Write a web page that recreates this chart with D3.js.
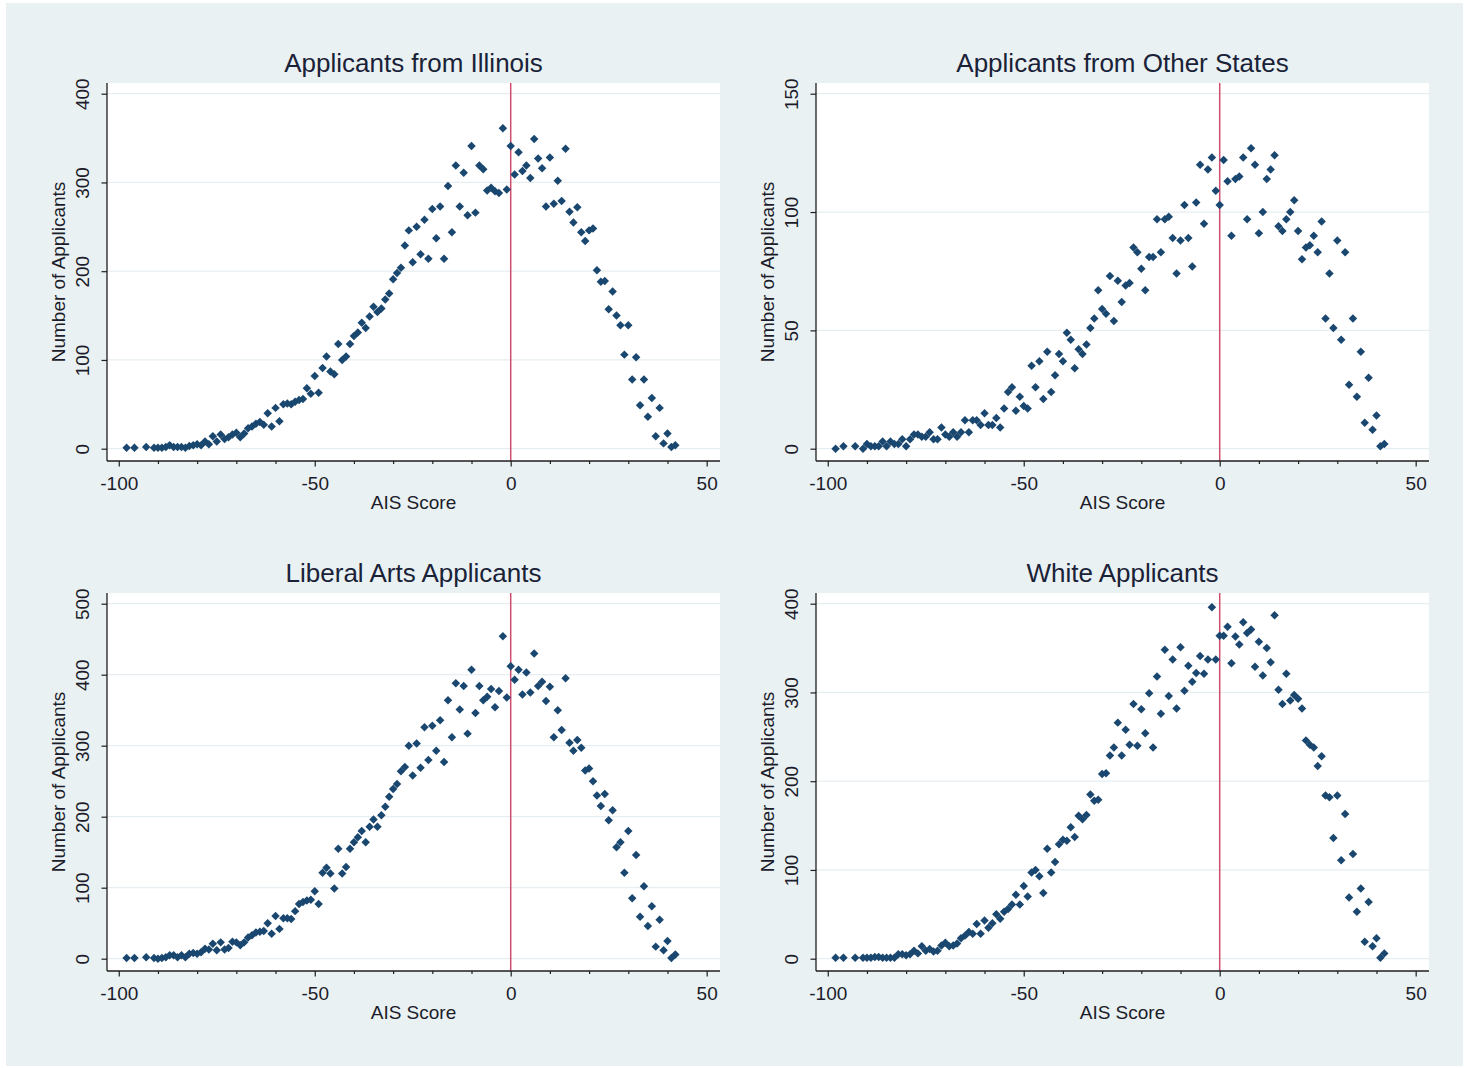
<!DOCTYPE html>
<html lang="en">
  <head>
    <meta charset="UTF-8" />
    <title>AIS score distributions</title>
    <script src="https://d3js.org/d3.v7.min.js"></script>
    <style>
      body {
        margin: 0;
        background: #ffffff;
      }
      text {
        font-family: "Liberation Sans", Arial, sans-serif;
        fill: #1c1c2a;
      }
      .grid {
        stroke: #e6eef1;
        stroke-width: 1.2;
      }
      .axis-line {
        stroke: #1e1e1e;
        stroke-width: 1.3;
      }
      .axis .tick line {
        stroke: #1e1e1e;
        stroke-width: 1.2;
      }
      .cutoff {
        stroke: #cf4d6d;
        stroke-width: 1.5;
      }
      .dot {
        fill: #1a476f;
      }
    </style>
  </head>
  <body>
    <svg width="1465" height="1068"></svg>

    <script>
      // AIS score of each point (same for the four groups)
      const scores = [
        -98, -96, -93,
        -91, -90, -89, -88, -87, -86, -85, -84, -83, -82,
        -81, -80, -79, -78, -77, -76, -75, -74, -73, -72,
        -71, -70, -69, -68, -67, -66, -65, -64, -63, -62,
        -61, -60, -59, -58, -57, -56, -55, -54, -53, -52,
        -51, -50, -49, -48, -47, -46, -45, -44, -43, -42,
        -41, -40, -39, -38, -37, -36, -35, -34, -33, -32,
        -31, -30, -29, -28, -27, -26, -25, -24, -23, -22,
        -21, -20, -19, -18, -17, -16, -15, -14, -13, -12,
        -11, -10, -9, -8, -7, -6, -5, -4, -3, -2,
        -1, 0, 1, 2, 3, 4, 5, 6, 7, 8,
        9, 10, 11, 12, 13, 14, 15, 16, 17, 18,
        19, 20, 21, 22, 23, 24, 25, 26, 27, 28,
        29, 30, 31, 32, 33, 34, 35, 36, 37, 38,
        39, 40, 41, 42,
      ];

      const illinois = [
        1, 1, 2,
        1, 1, 1, 2, 4, 2, 2, 2, 1, 3,
        4, 5, 4, 8, 5, 14, 8, 16, 11, 13,
        16, 18, 13, 17, 23, 25, 28, 30, 27, 40,
        25, 46, 31, 50, 51, 50, 53, 55, 56, 68,
        62, 82, 63, 91, 104, 87, 84, 118, 100, 104,
        118, 127, 131, 142, 136, 149, 160, 154, 158, 168,
        175, 191, 198, 204, 229, 246, 210, 250, 219, 258,
        214, 270, 237, 273, 214, 296, 244, 319, 273, 311,
        263, 341, 266, 319, 315, 291, 294, 290, 288, 361,
        292, 341, 309, 334, 313, 319, 305, 349, 327, 316,
        273, 328, 276, 302, 279, 338, 267, 255, 272, 244,
        234, 246, 248, 201, 188, 189, 157, 177, 150, 139,
        106, 139, 78, 103, 49, 78, 36, 57, 14, 46,
        6, 17, 2, 4,
      ];

      const otherStates = [
        0, 1, 1,
        0, 2, 1, 1, 1, 3, 1, 3, 2, 2,
        4, 1, 4, 6, 6, 5, 5, 7, 4, 4,
        9, 6, 5, 7, 5, 7, 12, 7, 12, 12,
        10, 15, 10, 10, 13, 9, 17, 24, 26, 16,
        22, 18, 17, 35, 26, 37, 21, 41, 24, 31,
        40, 37, 49, 46, 34, 42, 40, 44, 51, 55,
        67, 59, 57, 73, 54, 71, 62, 69, 70, 85,
        83, 76, 67, 81, 81, 97, 83, 97, 98, 89,
        74, 88, 103, 89, 77, 104, 120, 95, 118, 123,
        109, 103, 122, 113, 90, 114, 115, 123, 97, 127,
        120, 91, 100, 114, 118, 124, 94, 92, 97, 100,
        105, 92, 80, 85, 86, 90, 83, 96, 55, 74,
        51, 88, 46, 83, 27, 55, 22, 41, 11, 30,
        8, 14, 1, 2,
      ];

      const liberalArts = [
        1, 1, 2,
        1, 0, 1, 2, 5, 5, 2, 5, 2, 7,
        8, 7, 9, 14, 13, 21, 12, 23, 13, 15,
        24, 23, 19, 23, 30, 33, 37, 38, 39, 50,
        35, 60, 42, 57, 57, 56, 67, 77, 80, 82,
        83, 95, 77, 121, 128, 120, 99, 155, 120, 129,
        155, 164, 171, 180, 164, 186, 196, 186, 202, 214,
        228, 239, 246, 264, 270, 300, 258, 303, 269, 326,
        280, 328, 293, 336, 277, 364, 312, 388, 351, 384,
        317, 407, 346, 384, 364, 369, 380, 354, 377, 454,
        368, 412, 393, 407, 372, 403, 375, 430, 384, 390,
        363, 383, 312, 350, 322, 395, 304, 293, 308, 297,
        265, 268, 250, 230, 215, 232, 195, 209, 157, 164,
        121, 180, 85, 146, 59, 102, 46, 74, 17, 55,
        12, 25, 1, 6,
      ];

      const white = [
        1, 1, 1,
        1, 1, 1, 2, 2, 1, 1, 1, 1, 5,
        5, 4, 5, 9, 6, 14, 9, 11, 8, 9,
        15, 18, 14, 15, 17, 23, 26, 30, 28, 39,
        28, 43, 35, 40, 50, 45, 53, 56, 61, 72,
        61, 82, 70, 97, 100, 93, 74, 124, 97, 109,
        129, 134, 133, 148, 137, 161, 157, 162, 185, 178,
        179, 208, 209, 229, 238, 266, 229, 258, 241, 287,
        240, 281, 254, 299, 238, 318, 276, 348, 296, 337,
        282, 351, 302, 330, 312, 322, 341, 321, 337, 396,
        337, 364, 364, 374, 333, 363, 354, 379, 367, 371,
        329, 357, 319, 350, 334, 387, 303, 287, 321, 291,
        297, 293, 282, 246, 241, 238, 217, 228, 184, 182,
        136, 184, 111, 163, 69, 118, 53, 79, 19, 64,
        14, 23, 1, 6,
      ];

      const titles = [
        "Applicants from Illinois",
        "Applicants from Other States",
        "Liberal Arts Applicants",
        "White Applicants",
      ];
      const yTicksWide = [0, 100, 200, 300, 400];
      const yTicksOther = [0, 50, 100, 150];
      const yTicksLiberal = [0, 100, 200, 300, 400, 500];
      const xMajorTicks = [-100, -50, 0, 50];
      const xMinorTicks = [-90, -80, -70, -60, -40, -30, -20, -10, 10, 20, 30, 40];
      const cutoffScore = 0;

      const panels = [
        { title: titles[0], counts: illinois, yTicks: yTicksWide, left: 107, top: 83 },
        { title: titles[1], counts: otherStates, yTicks: yTicksOther, left: 816, top: 83 },
        { title: titles[2], counts: liberalArts, yTicks: yTicksLiberal, left: 107, top: 593 },
        { title: titles[3], counts: white, yTicks: yTicksWide, left: 816, top: 593 },
      ];

      const plotWidth = 613;
      const plotHeight = 378;

      // plain hyphen for negative numbers, like the original
      const plainNumber = function (d) {
        return String(d);
      };

      const svg = d3.select("svg");

      svg
        .append("rect")
        .attr("x", 6)
        .attr("y", 3)
        .attr("width", 1457)
        .attr("height", 1063)
        .attr("fill", "#e9f1f3");

      const diamond = d3.symbol().type(d3.symbolSquare).size(36);

      panels.forEach(function (p) {
        const g = svg
          .append("g")
          .attr("transform", "translate(" + p.left + "," + p.top + ")");

        const xScale = d3.scaleLinear().domain([-103, 53.4]).range([0, plotWidth]);
        const yMax = p.yTicks[p.yTicks.length - 1];
        const yScale = d3
          .scaleLinear()
          .domain([0, yMax])
          .range([plotHeight - 12.3, 10.7]);

        g.append("rect")
          .attr("width", plotWidth)
          .attr("height", plotHeight)
          .attr("fill", "#ffffff");

        g.selectAll(".grid")
          .data(p.yTicks)
          .enter()
          .append("line")
          .attr("class", "grid")
          .attr("x1", 0)
          .attr("x2", plotWidth)
          .attr("y1", function (d) {
            return yScale(d);
          })
          .attr("y2", function (d) {
            return yScale(d);
          });

        g.append("line")
          .attr("class", "cutoff")
          .attr("x1", xScale(cutoffScore))
          .attr("x2", xScale(cutoffScore))
          .attr("y1", 0)
          .attr("y2", plotHeight);

        g.selectAll(".dot")
          .data(p.counts)
          .enter()
          .append("path")
          .attr("class", "dot")
          .attr("d", diamond)
          .attr("transform", function (d, i) {
            return (
              "translate(" + xScale(scores[i]) + "," + yScale(d) + ") rotate(45)"
            );
          });

        // y axis
        const yAxis = g
          .append("g")
          .attr("class", "axis")
          .call(d3.axisLeft(yScale).tickValues(p.yTicks).tickSize(5.5).tickFormat(plainNumber));
        yAxis.select(".domain").remove();
        yAxis
          .selectAll("text")
          .attr("x", 0)
          .attr("y", -18)
          .attr("dy", null)
          .attr("text-anchor", "middle")
          .attr("transform", "rotate(-90)")
          .style("font-size", "19px")
          .style("font-family", '"Liberation Sans", Arial, sans-serif')
          .attr("fill", "#1c1c2a");

        // x axis, major and minor ticks
        const xAxis = g
          .append("g")
          .attr("class", "axis")
          .attr("transform", "translate(0," + plotHeight + ")")
          .call(
            d3
              .axisBottom(xScale)
              .tickValues(xMajorTicks)
              .tickSize(5.5)
              .tickPadding(10.5)
              .tickFormat(plainNumber)
          );
        xAxis.select(".domain").remove();
        xAxis
          .selectAll("text")
          .style("font-size", "19px")
          .style("font-family", '"Liberation Sans", Arial, sans-serif')
          .attr("fill", "#1c1c2a");

        const xMinor = g
          .append("g")
          .attr("class", "axis")
          .attr("transform", "translate(0," + plotHeight + ")")
          .call(d3.axisBottom(xScale).tickValues(xMinorTicks).tickSize(3).tickFormat(""));
        xMinor.select(".domain").remove();

        g.append("line")
          .attr("class", "axis-line")
          .attr("x1", 0)
          .attr("x2", 0)
          .attr("y1", 0)
          .attr("y2", plotHeight);
        g.append("line")
          .attr("class", "axis-line")
          .attr("x1", 0)
          .attr("x2", plotWidth)
          .attr("y1", plotHeight)
          .attr("y2", plotHeight);

        // titles
        g.append("text")
          .attr("x", plotWidth / 2)
          .attr("y", -11)
          .attr("text-anchor", "middle")
          .style("font-size", "26px")
          .style("fill", "#1a2238")
          .text(p.title);

        g.append("text")
          .attr("x", plotWidth / 2)
          .attr("y", plotHeight + 48)
          .attr("text-anchor", "middle")
          .style("font-size", "19px")
          .text("AIS Score");

        g.append("text")
          .attr("transform", "translate(-42," + plotHeight / 2 + ") rotate(-90)")
          .attr("text-anchor", "middle")
          .style("font-size", "19px")
          .text("Number of Applicants");
      });
    </script>
  </body>
</html>
